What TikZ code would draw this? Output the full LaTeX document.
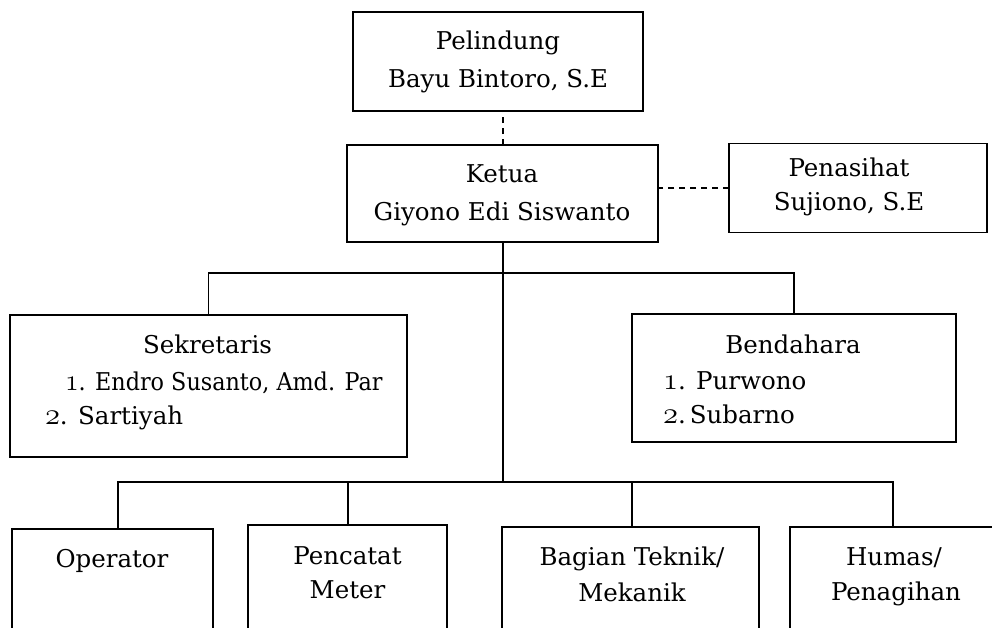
\documentclass[tikz,border=0pt]{standalone}
\usepackage{graphicx}
\usepackage{fontspec}
\setmainfont{DejaVu Serif}
\DeclareFontFamily{OML}{cmmx}{\skewchar\font127}
\DeclareFontShape{OML}{cmmx}{m}{it}{<->cmmi12}{}
\newcommand{\osn}[1]{\scalebox{1.25}{\fontencoding{OML}\fontfamily{cmmx}\fontseries{b}\fontseries{m}\fontshape{it}\selectfont #1}}
\begin{document}
\begin{tikzpicture}[x=1pt,y=-1pt,
  box/.style={draw, line width=1.7pt, inner sep=0pt, outer sep=0pt},
  txt/.style={font=\fontsize{24.5}{36}\selectfont, inner sep=0pt, outer sep=0pt, anchor=base},
  txtw/.style={txt, anchor=base west},
  conn/.style={line width=1.7pt},
  dconn/.style={line width=1.7pt, dash pattern=on 6pt off 5pt}]
\useasboundingbox (0,0) rectangle (992,627);
\clip (0,0) rectangle (992,627);
% boxes
\node[box, minimum width=290pt, minimum height=99pt] (pel) at (498,61.5) {};
\node[box, minimum width=311pt, minimum height=97pt] (ket) at (502.5,193.5) {};
\node[box, minimum width=258pt, minimum height=89pt] (pen) at (858,188) {};
\node[box, minimum width=397pt, minimum height=142pt] (sek) at (208.5,386) {};
\node[box, minimum width=324pt, minimum height=128pt] (ben) at (794,378) {};
\node[box, minimum width=201pt, minimum height=140pt] (op) at (112.5,599) {};
\node[box, minimum width=199pt, minimum height=140pt] (pc) at (347.5,595) {};
\node[box, minimum width=257pt, minimum height=140pt] (bag) at (630.5,597) {};
\node[box, minimum width=206pt, minimum height=140pt] (hum) at (893,597) {};
% texts
\node[txt] (pel1) at (498,49) {Pelindung};
\node[txt] (pel2) at (498,87) {Bayu Bintoro, S.E};
\node[txt] (ket1) at (502,182) {Ketua};
\node[txt] (ket2) at (502,220) {Giyono Edi Siswanto};
\node[txt] (pen1) at (849,176) {Penasihat};
\node[txt] (pen2) at (849,210) {Sujiono, S.E};
\node[txt] (sek1) at (207.5,353) {Sekretaris};
\node[txtw] (sek2) at (65,390) {\scalebox{0.91}[1]{\osn{1}. Endro Susanto, Amd. Par}};
\node[txtw] (sek3) at (45,424) {\osn{2}. Sartiyah};
\node[txt] (ben1) at (793,353) {Bendahara};
\node[txtw] (ben2) at (663,389) {\osn{1}. Purwono};
\node[txtw] (ben3) at (663,423) {\osn{2}.\,Subarno};
\node[txt] (op1) at (112,567) {Operator};
\node[txt] (pc1) at (347.5,564) {Pencatat};
\node[txt] (pc2) at (347.5,598) {Meter};
\node[txt] (bag1) at (632,565) {Bagian Teknik/};
\node[txt] (bag2) at (632,601) {Mekanik};
\node[txt] (hum1) at (894,565) {Humas/};
\node[txt] (hum2) at (896,600) {Penagihan};
% connectors
\coordinate (bu) at (503,273);
\coordinate (bl) at (503,482);
\coordinate (kb) at (503,242);
\coordinate (opt) at ([xshift=5.5pt]op.north);
\coordinate (pct) at ([xshift=0.5pt]pc.north);
\coordinate (bagt) at ([xshift=1.5pt]bag.north);
\draw[dconn] (ket.north -| kb) -- (pel.south -| kb);
\draw[dconn] (pen.west) -- (pen.west -| ket.east);
\draw[conn] (kb) -- (bl);
\draw[conn] (sek.north) |- (bu) -| (ben.north);
\draw[conn] (opt) |- (bl) -| (hum.north);
\draw[conn] (pct) -- (pct |- bl);
\draw[conn] (bagt) -- (bagt |- bl);
\end{tikzpicture}
\end{document}
